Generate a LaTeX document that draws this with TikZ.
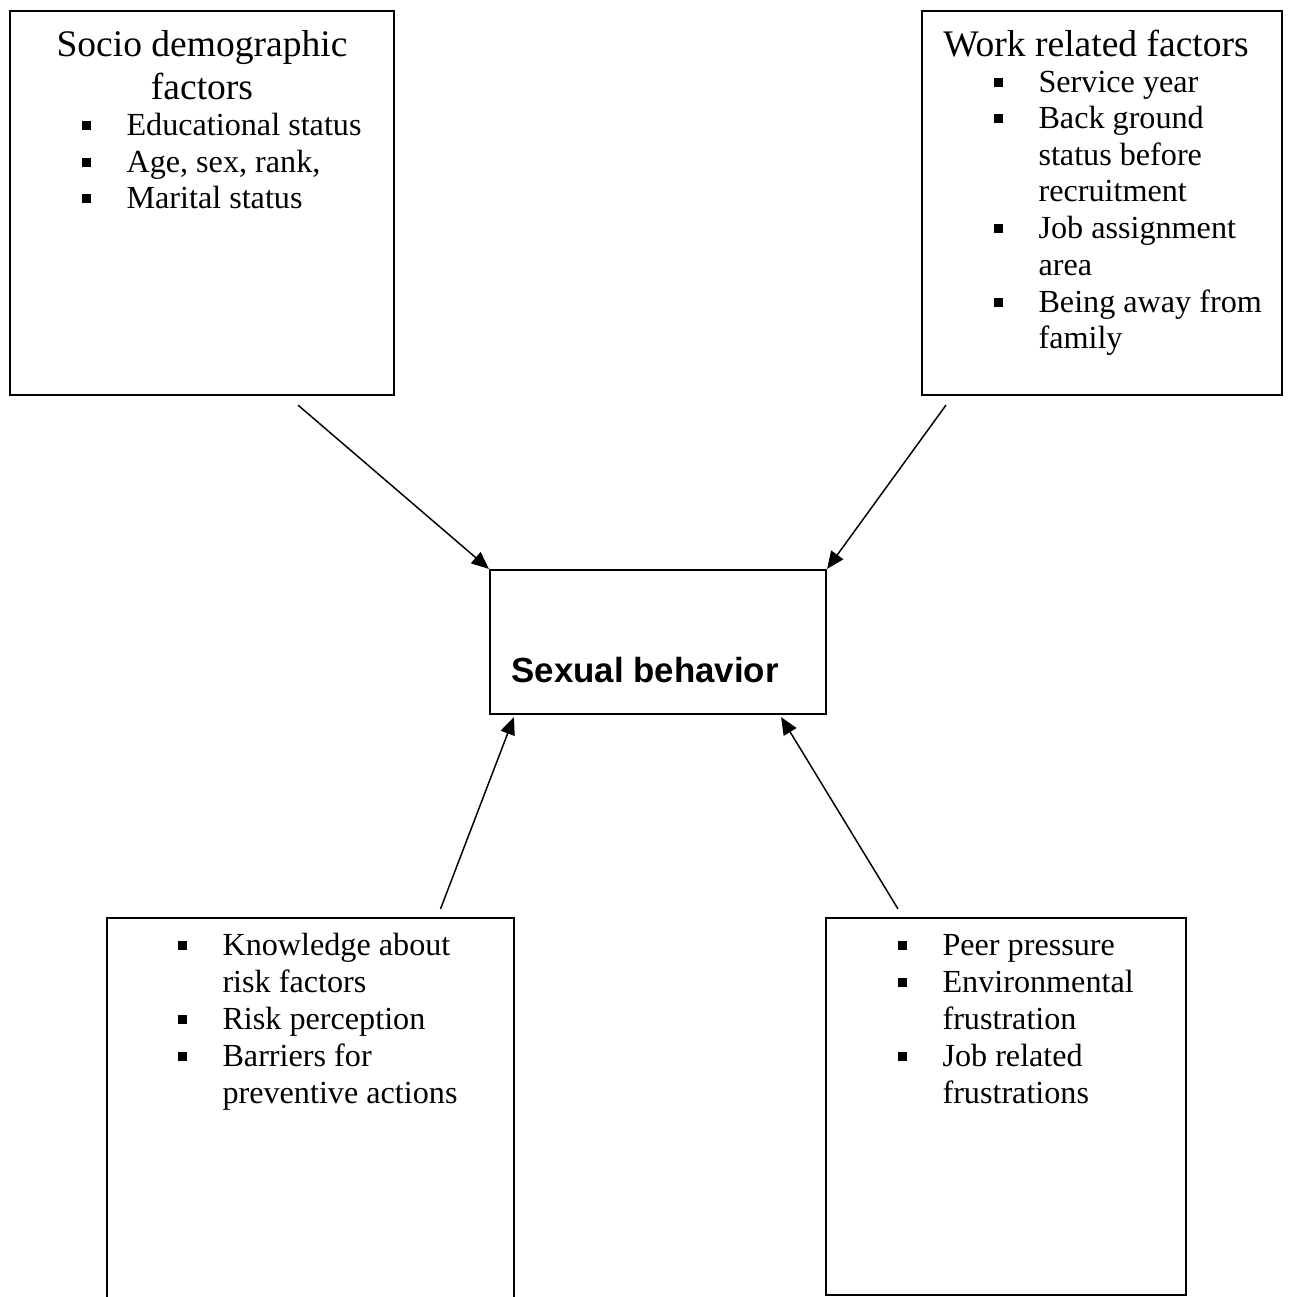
\documentclass[tikz,border=0pt]{standalone}
\usepackage{fontspec}
\setmainfont{Liberation Serif}
\newfontfamily\arialfont{Liberation Sans}
\usetikzlibrary{arrows.meta,fit,calc}

\tikzset{
  factorbox/.style={draw, line width=0.8pt, inner sep=0pt},
  headline/.style={anchor=base, inner sep=0pt, font=\fontsize{14}{16}\selectfont},
  itemline/.style={anchor=base west, inner sep=0pt, font=\fontsize{12}{13.8}\selectfont},
  flow/.style={line width=0.55pt, -{Triangle[length=6.5pt,width=5.5pt]}},
}
\newcommand{\itembullet}{\llap{\raisebox{2pt}{\rule{3.3pt}{3.3pt}}\hspace{13.2pt}}}

\begin{document}
\begin{tikzpicture}[x=0.373pt,y=-0.373pt]
  \useasboundingbox (0,0) rectangle (1290,1297);

  % boxes
  \node[factorbox, fit={(10,11) (394,395)}] (socio) {};
  \node[factorbox, fit={(922,11) (1282,395)}] (work) {};
  \node[factorbox, fit={(490,570) (826,714)}] (behav) {};
  \node[factorbox, fit={(107,918) (514,1330)}] (know) {};
  \node[factorbox, fit={(826,918) (1186,1295)}] (peer) {};

  % socio demographic
  \node[headline] (socio-t1) at (202,56) {Socio demographic};
  \node[headline] (socio-t2) at (202,99) {factors};
  \foreach \n/\y/\t in {1/135/Educational status, 2/172/{Age, sex, rank,}, 3/208/Marital status}
    \node[itemline] (socio-\n) at (126,\y) {\itembullet\t};

  % work related
  \node[headline] (work-t) at (1096,56) {Work related factors};
  \foreach \n/\y/\t in {1/92/{\itembullet Service year}, 2/128/{\itembullet Back ground},
      3/165/status before, 4/201/recruitment, 5/238/{\itembullet Job assignment},
      6/275/area, 7/312/{\itembullet Being away from}, 8/348/family}
    \node[itemline] (work-\n) at (1038,\y) {\t};

  % knowledge
  \foreach \n/\y/\t in {1/955/{\itembullet Knowledge about}, 2/992/risk factors,
      3/1029/{\itembullet Risk perception}, 4/1066/{\itembullet Barriers for},
      5/1103/preventive actions}
    \node[itemline] (know-\n) at (222,\y) {\t};

  % peer
  \foreach \n/\y/\t in {1/955/{\itembullet Peer pressure}, 2/992/{\itembullet Environmental},
      3/1029/frustration, 4/1066/{\itembullet Job related}, 5/1103/frustrations}
    \node[itemline] (peer-\n) at (942,\y) {\t};

  % centre
  \node[anchor=base west, inner sep=0pt, font=\arialfont\bfseries\fontsize{13}{15}\selectfont]
    (behav-t) at (511,682) {Sexual behavior};

  % arrows
  \coordinate (socio-out) at ($(socio.south)+(96,9)$);
  \coordinate (work-out) at ($(work.south)+(-156,9)$);
  \coordinate (know-out) at ($(know.north)+(130,-8)$);
  \coordinate (peer-out) at ($(peer.north)+(-108,-8)$);
  \coordinate (behav-in3) at ($(behav.south west)+(25,2)$);
  \coordinate (behav-in4) at ($(behav.south east)+(-46,2)$);

  \draw[flow] (socio-out) -- (behav.north west);
  \draw[flow] (work-out) -- (behav.north east);
  \draw[flow] (know-out) -- (behav-in3);
  \draw[flow] (peer-out) -- (behav-in4);
\end{tikzpicture}
\end{document}
